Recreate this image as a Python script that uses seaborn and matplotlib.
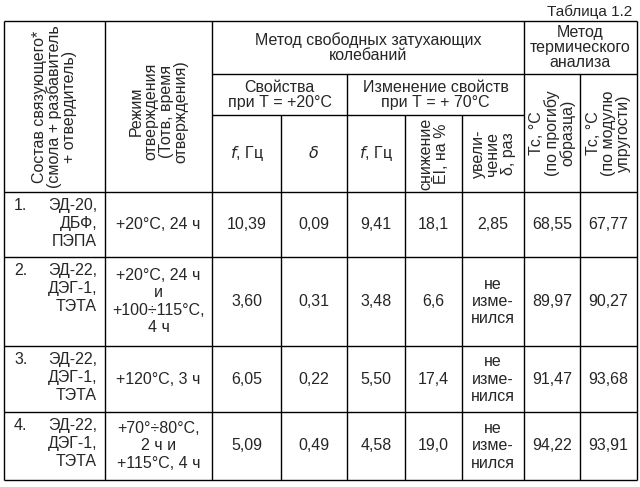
import matplotlib
matplotlib.use("Agg")
import matplotlib.pyplot as plt
import seaborn as sns

sns.set_theme(style="white", font="Liberation Sans")

numbers = ["1.", "2.", "3.", "4."]
compositions = ["ЭД-20,\nДБФ,\nПЭПА", "ЭД-22,\nДЭГ-1,\nТЭТА", "ЭД-22,\nДЭГ-1,\nТЭТА", "ЭД-22,\nДЭГ-1,\nТЭТА"]
modes = ["+20°C, 24 ч", "+20°C, 24 ч\nи\n+100÷115°C,\n4 ч", "+120°C, 3 ч", "+70°÷80°C,\n2 ч и\n+115°C, 4 ч"]
f20 = ["10,39", "3,60", "6,05", "5,09"]
delta20 = ["0,09", "0,31", "0,22", "0,49"]
f70 = ["9,41", "3,48", "5,50", "4,58"]
ei_drop = ["18,1", "6,6", "17,4", "19,0"]
delta_inc = ["2,85", "не\nизме-\nнился", "не\nизме-\nнился", "не\nизме-\nнился"]
tc_bend = ["68,55", "89,97", "91,47", "94,22"]
tc_mod = ["67,77", "90,27", "93,68", "93,91"]

fig = plt.figure(figsize=(6.4, 4.87), dpi=100)
ax = fig.add_axes([0, 0, 1, 1])
ax.set_xlim(0, 640)
ax.set_ylim(487, 0)
ax.axis("off")

X = [4, 105, 212, 281, 347, 405, 462, 524, 580, 637]
top, h1, h2, hb = 21, 74, 115, 192
rows = [hb, 257, 346, 412, 480]
kw = dict(color="black", lw=1.0)

ax.hlines([top, hb] + rows[1:], X[0], X[-1], **kw)
ax.hlines(h1, X[2], X[-1], **kw)
ax.hlines(h2, X[2], X[7], **kw)
ax.vlines([X[0], X[1], X[2], X[7], X[9]], top, rows[-1], **kw)
ax.vlines([X[4], X[8]], h1, rows[-1], **kw)
ax.vlines([X[3], X[5], X[6]], h2, rows[-1], **kw)

fs = 11.5
ax.text(632, 12, "Таблица 1.2", ha="right", va="center", fontsize=11)
tk = dict(ha="center", va="center", fontsize=fs, linespacing=1.0)
ax.text((X[0]+X[1])/2, (top+hb)/2, "Состав связующего*\n(смола + разбавитель\n+ отвердитель)", rotation=90, **tk)
ax.text((X[1]+X[2])/2, (top+hb)/2 + 5, "Режим\nотверждения\n(Тотв, время\nотверждения)", rotation=90, **tk)
ax.text((X[2]+X[7])/2, (top+h1)/2, "Метод свободных затухающих\nколебаний", **tk)
ax.text((X[7]+X[9])/2, (top+h1)/2, "Метод\nтермического\nанализа", **tk)
ax.text((X[2]+X[4])/2, (h1+h2)/2, "Свойства\nпри Т = +20°C", **tk)
ax.text((X[4]+X[7])/2, (h1+h2)/2, "Изменение свойств\nпри Т = + 70°C", **tk)
ax.text((X[2]+X[3])/2, (h2+hb)/2, "$f$, Гц", **tk)
ax.text((X[3]+X[4])/2, (h2+hb)/2, r"$\delta$", **tk)
ax.text((X[4]+X[5])/2, (h2+hb)/2, "$f$, Гц", **tk)
ax.text((X[5]+X[6])/2, (h2+hb)/2, "снижение\nĒI, на %", rotation=90, **tk)
ax.text((X[6]+X[7])/2, (h2+hb)/2, "увели-\nчение\nδ, раз", rotation=90, **tk)
ax.text((X[7]+X[8])/2, (h1+hb)/2, "Тс, °С\n(по прогибу\nобразца)", rotation=90, **tk)
ax.text((X[8]+X[9])/2, (h1+hb)/2, "Тс, °С\n(по модулю\nупругости)", rotation=90, **tk)

cols = [f20, delta20, f70, ei_drop, delta_inc, tc_bend, tc_mod]
for i in range(4):
    y0 = rows[i] + 6
    yc = (rows[i] + rows[i+1]) / 2
    ax.text(X[0] + 10, y0, numbers[i], ha="left", va="top", fontsize=fs, linespacing=1.25)
    ax.text(X[1] - 8, y0, compositions[i], ha="right", va="top", fontsize=fs, linespacing=1.25,
            multialignment="right")
    ax.text((X[1]+X[2])/2, yc, modes[i], ha="center", va="center", fontsize=fs, linespacing=1.2)
    for j, c in enumerate(cols):
        ax.text((X[j+2]+X[j+3])/2, yc, c[i], ha="center", va="center", fontsize=fs, linespacing=1.2)

fig.savefig("out.png", dpi=100, facecolor="white")
